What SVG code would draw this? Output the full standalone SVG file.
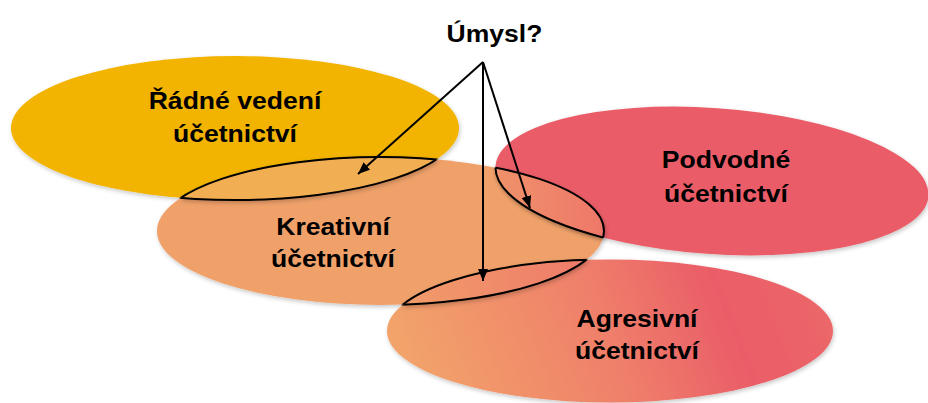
<svg xmlns="http://www.w3.org/2000/svg" width="928" height="403" viewBox="0 0 928 403">
  <style>
    .label { font-family: "Liberation Sans", Arial, Helvetica, sans-serif; font-weight: bold; font-size: 23.5px; fill: #000; text-anchor: middle; }
    .edge { fill: none; stroke: #000; stroke-width: 2; }
    .arrow { fill: none; stroke: #000; stroke-width: 2; marker-end: url(#head); }
  </style>
  <defs>
    <!-- ellipse shapes, reused for fills, clips and outlines -->
    <ellipse id="eY" cx="235" cy="128" rx="224" ry="72"/>
    <ellipse id="eK" cx="380.5" cy="231" rx="223.5" ry="74"/>
    <ellipse id="eR" cx="712" cy="181" rx="217" ry="73" transform="rotate(4 712 181)"/>
    <ellipse id="eA" cx="610" cy="331" rx="223" ry="71.5"/>

    <clipPath id="cY"><use href="#eY"/></clipPath>
    <clipPath id="cK"><use href="#eK"/></clipPath>
    <clipPath id="cR"><use href="#eR"/></clipPath>
    <clipPath id="cA"><use href="#eA"/></clipPath>

    <linearGradient id="gA" gradientUnits="userSpaceOnUse" x1="420" y1="400" x2="830" y2="240">
      <stop offset="0" stop-color="#F2A36B"/>
      <stop offset="0.45" stop-color="#EF7F6B"/>
      <stop offset="0.72" stop-color="#EA5D67"/>
      <stop offset="1" stop-color="#EC6A69"/>
    </linearGradient>
    <linearGradient id="gRK" gradientUnits="userSpaceOnUse" x1="495" y1="200" x2="605" y2="190">
      <stop offset="0" stop-color="#EF926A"/>
      <stop offset="1" stop-color="#EE7769"/>
    </linearGradient>
    <linearGradient id="gKA" gradientUnits="userSpaceOnUse" x1="403" y1="290" x2="590" y2="260">
      <stop offset="0" stop-color="#F19C6A"/>
      <stop offset="1" stop-color="#EE7A6A"/>
    </linearGradient>

    <filter id="shadow" x="-10%" y="-10%" width="120%" height="130%">
      <feDropShadow dx="1" dy="2" stdDeviation="2" flood-color="#000" flood-opacity="0.22"/>
    </filter>

    <marker id="head" viewBox="0 0 12 10" refX="12" refY="5" markerWidth="12" markerHeight="10" markerUnits="userSpaceOnUse" orient="auto">
      <path d="M0,0 L12,5 L0,10 Z" fill="#000"/>
    </marker>
  </defs>

  <!-- the four areas -->
  <g id="node-radne">
    <use href="#eY" fill="#F2B400" filter="url(#shadow)"/>
  </g>
  <g id="node-kreativni">
    <use href="#eK" fill="#F0A16B" filter="url(#shadow)"/>
  </g>
  <g id="node-podvodne">
    <use href="#eR" fill="#EA5D67" filter="url(#shadow)"/>
  </g>
  <g id="node-agresivni">
    <use href="#eA" fill="url(#gA)" filter="url(#shadow)"/>
  </g>

  <!-- overlaps, outlined -->
  <g id="overlap-radne-kreativni" filter="url(#shadow)">
    <g clip-path="url(#cK)">
      <use href="#eY" fill="#F2AE52"/>
      <use href="#eY" class="edge"/>
    </g>
    <g clip-path="url(#cY)"><use href="#eK" class="edge"/></g>
  </g>
  <g id="overlap-kreativni-podvodne" filter="url(#shadow)">
    <g clip-path="url(#cK)">
      <use href="#eR" fill="url(#gRK)"/>
      <use href="#eR" class="edge"/>
    </g>
    <g clip-path="url(#cR)"><use href="#eK" class="edge"/></g>
  </g>
  <g id="overlap-kreativni-agresivni" filter="url(#shadow)">
    <g clip-path="url(#cK)">
      <use href="#eA" fill="url(#gKA)"/>
      <use href="#eA" class="edge"/>
    </g>
    <g clip-path="url(#cA)"><use href="#eK" class="edge"/></g>
  </g>

  <!-- labels -->
  <g id="label-radne" transform="translate(235 0) scale(1.13 1)">
    <text class="label" x="0" y="109">Řádné vedení</text>
    <text class="label" x="0" y="142">účetnictví</text>
  </g>
  <g id="label-kreativni" transform="translate(333 0) scale(1.13 1)">
    <text class="label" x="0" y="235">Kreativní</text>
    <text class="label" x="0" y="267">účetnictví</text>
  </g>
  <g id="label-podvodne" transform="translate(726 0) scale(1.13 1)">
    <text class="label" x="0" y="168">Podvodné</text>
    <text class="label" x="0" y="202">účetnictví</text>
  </g>
  <g id="label-agresivni" transform="translate(637 0) scale(1.13 1)">
    <text class="label" x="0" y="327">Agresivní</text>
    <text class="label" x="0" y="359">účetnictví</text>
  </g>

  <g id="node-umysl" transform="translate(494.5 0) scale(1.13 1)">
    <text class="label" x="0" y="42">Úmysl?</text>
  </g>

  <!-- connectors from the question to the overlaps -->
  <g id="connectors">
    <line class="arrow" x1="483" y1="62" x2="358" y2="174"/>
    <line class="arrow" x1="483" y1="62" x2="483" y2="281"/>
    <line class="arrow" x1="483" y1="62" x2="530" y2="208"/>
  </g>
</svg>
